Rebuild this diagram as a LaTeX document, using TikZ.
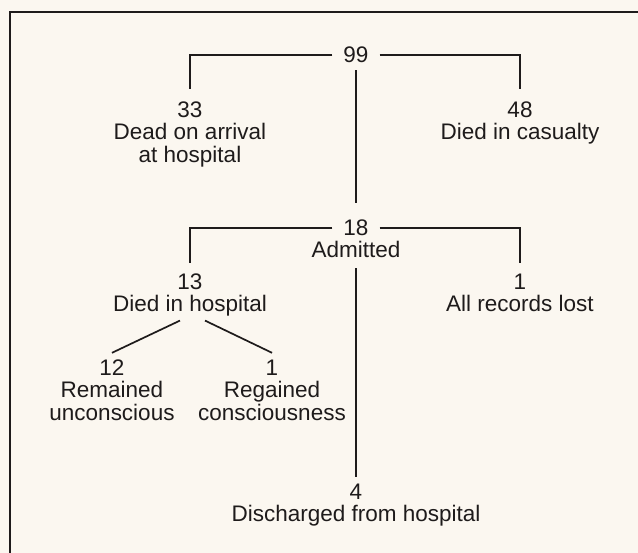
\documentclass[tikz,border=0pt]{standalone}
\usepackage{fontspec}
\setmainfont{Liberation Sans}
\usetikzlibrary{positioning}
\definecolor{paper}{RGB}{251,247,240}
\definecolor{ink}{RGB}{30,27,27}
\tikzset{txt/.style={
        font=\fontsize{22.5}{23}\selectfont,
        text=ink,
        inner sep=0pt},
        %
        num/.style={
            txt,
            text height=16pt,
            text depth=0pt},
        %
        lbl/.style={
            txt,
            align=center,
            below=5pt of #1},
        %
        link/.style={
            draw=ink,
            line width=1.7pt}
        }
\def\gap{11pt}

\begin{document}
\begin{tikzpicture}[x=1pt,y=-1pt]
\fill[paper] (0,0) rectangle (638,553);
\useasboundingbox (0,0) rectangle (638,553);
\draw[ink,line width=2.2pt] (10,553) -- (10,12) -- (638,12);

\node[num] (n99) at (356,55) {99};
\node[num] (n33) at (190,110) {33};
\node[lbl=n33] (l33) {Dead on arrival\\at hospital};
\node[num] (n48) at (520,110) {48};
\node[lbl=n48] (l48) {Died in casualty};
\node[num] (n18) at (356,228) {18};
\node[lbl=n18] (l18) {Admitted};
\node[num] (n13) at (190,282) {13};
\node[lbl=n13] (l13) {Died in hospital};
\node[num] (n1a) at (520,282) {1};
\node[lbl=n1a] (l1a) {All records lost};
\node[num] (n12) at (112,368) {12};
\node[lbl=n12] (l12) {Remained\\unconscious};
\node[num] (n1b) at (272,368) {1};
\node[lbl=n1b] (l1b) {Regained\\consciousness};
\node[num] (n4) at (356,492) {4};
\node[lbl=n4] (l4) {Discharged from hospital};

\draw[link,shorten <=\gap,shorten >=13pt] (n99.west) -| (n33.north);
\draw[link,shorten <=\gap,shorten >=13pt] (n99.east) -| (n48.north);
\draw[link,shorten <=7pt,shorten >=17pt] (n99.south) -- (n18.north);
\draw[link,shorten <=\gap,shorten >=11pt] (n18.west) -| (n13.north);
\draw[link,shorten <=\gap,shorten >=11pt] (n18.east) -| (n1a.north);
\draw[link,shorten <=10pt,shorten >=7pt] (l18.south) -- (n4.north);
\draw[link] ([xshift=-10pt,yshift=-4pt]l13.south) -- ([yshift=7pt]n12.north);
\draw[link] ([xshift=15pt,yshift=-4pt]l13.south) -- ([yshift=7pt]n1b.north);
\end{tikzpicture}
\end{document}
